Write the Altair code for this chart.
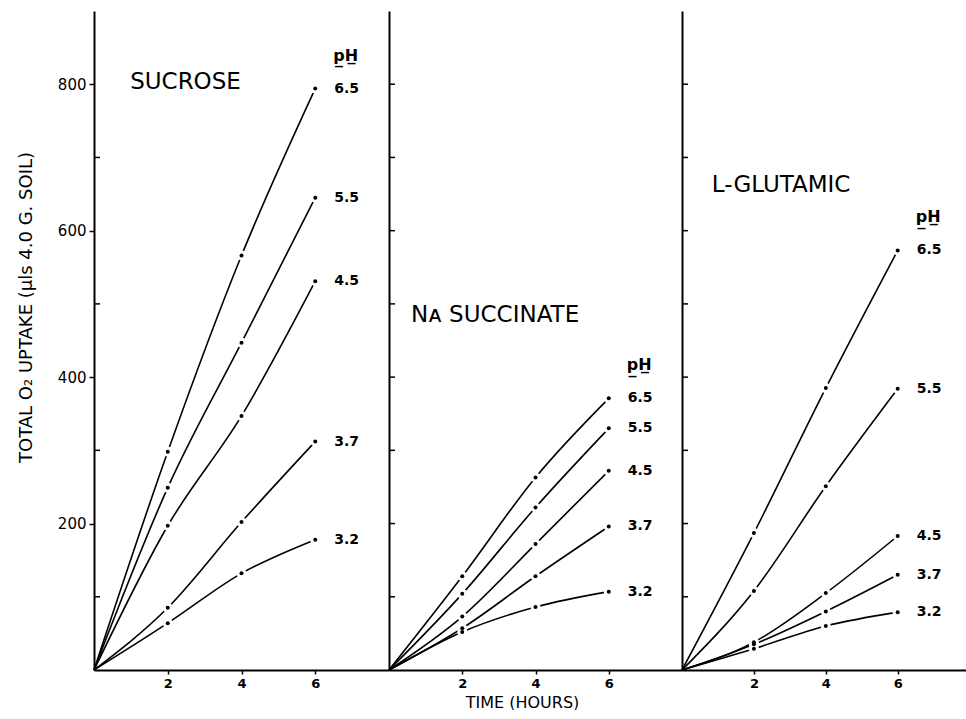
import altair as alt
import pandas as pd

# ---------------- data ----------------
HOURS = [0, 2, 4, 6]
PH_LEVELS = ["6.5", "5.5", "4.5", "3.7", "3.2"]
PANELS = ["SUCROSE", "Nᴀ SUCCINATE", "L-GLUTAMIC"]

SUCROSE = {
    "6.5": [0, 298, 566, 794],
    "5.5": [0, 249, 447, 645],
    "4.5": [0, 197, 347, 531],
    "3.7": [0, 85, 202, 312],
    "3.2": [0, 64, 132, 178],
}
NA_SUCCINATE = {
    "6.5": [0, 128, 263, 371],
    "5.5": [0, 104, 222, 330],
    "4.5": [0, 73, 172, 272],
    "3.7": [0, 57, 128, 196],
    "3.2": [0, 52, 86, 107],
}
L_GLUTAMIC = {
    "6.5": [0, 187, 385, 573],
    "5.5": [0, 108, 251, 384],
    "4.5": [0, 38, 105, 183],
    "3.7": [0, 35, 80, 130],
    "3.2": [0, 29, 60, 79],
}
PANEL_VALUES = [SUCROSE, NA_SUCCINATE, L_GLUTAMIC]

# panel title anchors (data coordinates: hour, O2 uptake)
TITLE_HOUR = [0.98, 0.6, 0.83]
TITLE_VALUE = [803, 485, 662]

X_TICKS = [2, 4, 6]
Y_MAJOR = [200, 400, 600, 800]
Y_MINOR_FIRST = [100, 300, 500, 700]
Y_MINOR = [100, 200, 300, 400, 500, 600, 700, 800]

Y_TITLE = "TOTAL O₂ UPTAKE (μls 4.0 G. SOIL)"
X_TITLE = "TIME (HOURS)"
PH_HEADER = "p̲H̲"

FONT = "DejaVu Sans"

rows = []
for name, table in zip(PANELS, PANEL_VALUES):
    for ph in PH_LEVELS:
        for h, v in zip(HOURS, table[ph]):
            rows.append({"panel": name, "ph": ph, "hour": h, "value": v})
data = pd.DataFrame(rows)

titles = pd.DataFrame({"panel": PANELS, "hour": TITLE_HOUR, "value": TITLE_VALUE})

yscale = alt.Scale(domain=[0, 900], nice=False, zero=True)


def make_panel(idx, width, xmax):
    name = PANELS[idx]
    d = data[data.panel == name]
    first = idx == 0

    x_kwargs = dict(values=X_TICKS, title="", labelFontSize=13, labelFontWeight="bold",
                    tickSize=4, labelPadding=3, domainWidth=2, labelFont=FONT)
    if idx == 1:
        x_kwargs.update(title=X_TITLE, titleFontSize=16, titleFontWeight="normal",
                        titleFont=FONT, titleX=133, titleY=32, titleAlign="center",
                        titleBaseline="middle")
    x = alt.X("hour:Q", scale=alt.Scale(domain=[0, xmax], nice=False, zero=True),
              axis=alt.Axis(**x_kwargs))

    if first:
        axis_a = alt.Axis(values=Y_MAJOR, title=Y_TITLE, titleX=-68, titleY=296,
                          titleAngle=-90, titleAlign="center", titleBaseline="middle",
                          titleFontSize=18, titleFontWeight="normal", titleFont=FONT,
                          labelFontSize=15, labelFont=FONT, tickSize=5, labelPadding=3,
                          domainWidth=2, orient="left")
        minor = Y_MINOR_FIRST
    else:
        axis_a = alt.Axis(values=[], title="", ticks=False, labels=False,
                          domainWidth=2, orient="left")
        minor = Y_MINOR

    base = alt.Chart(d)
    lines = base.mark_line(interpolate="monotone", color="black", strokeWidth=1.6).encode(
        x=x, y=alt.Y("value:Q", scale=yscale, axis=axis_a), detail="ph:N")
    inward = alt.Chart(pd.DataFrame({"tick": minor})).mark_rule(
        color="black", strokeWidth=1.5).encode(
        x=alt.value(0), x2=alt.value(6), y=alt.Y("tick:Q", scale=yscale, axis=None))
    halos = base.transform_filter("datum.hour > 0").mark_circle(
        color="white", opacity=1, size=100).encode(
        x=x, y=alt.Y("value:Q", scale=yscale, axis=None))
    dots = base.transform_filter("datum.hour > 0").mark_circle(
        color="black", opacity=1, size=16).encode(
        x=x, y=alt.Y("value:Q", scale=yscale, axis=None))
    labels = base.transform_filter("datum.hour == 6").mark_text(
        align="left", baseline="middle", dx=19, font=FONT, fontSize=14,
        fontWeight="bold", color="black").encode(
        x=x, y=alt.Y("value:Q", scale=yscale, axis=None), text="ph:N")
    header = base.transform_filter("datum.hour == 6 && datum.ph == '6.5'").mark_text(
        align="left", baseline="middle", dx=18, dy=-33, font=FONT, fontSize=16,
        fontWeight="bold", color="black", text=PH_HEADER).encode(
        x=x, y=alt.Y("value:Q", scale=yscale, axis=None))
    title = alt.Chart(titles[titles.panel == name]).mark_text(
        align="left", baseline="middle", font=FONT, fontSize=23, color="black").encode(
        x=x, y=alt.Y("value:Q", scale=yscale, axis=None), text="panel:N")

    return alt.layer(lines, inward, halos, dots, labels, header, title).resolve_axis(
        y="independent").properties(width=width, height=659)


p1 = make_panel(0, 295, 8.0)
p2 = make_panel(1, 293, 8.0)
p3 = make_panel(2, 284, 7.9)

chart = alt.hconcat(p1, p2, p3, spacing=0, bounds="flush").properties(
    padding={"left": 17, "top": 11, "right": 0, "bottom": 0},
    background="white",
).configure_view(strokeWidth=0).configure_axis(
    grid=False, domainColor="black", tickColor="black", labelColor="black",
    titleColor="black", tickWidth=1.5,
)

chart.save("out.html", embed_options={"renderer": "svg", "actions": False})
